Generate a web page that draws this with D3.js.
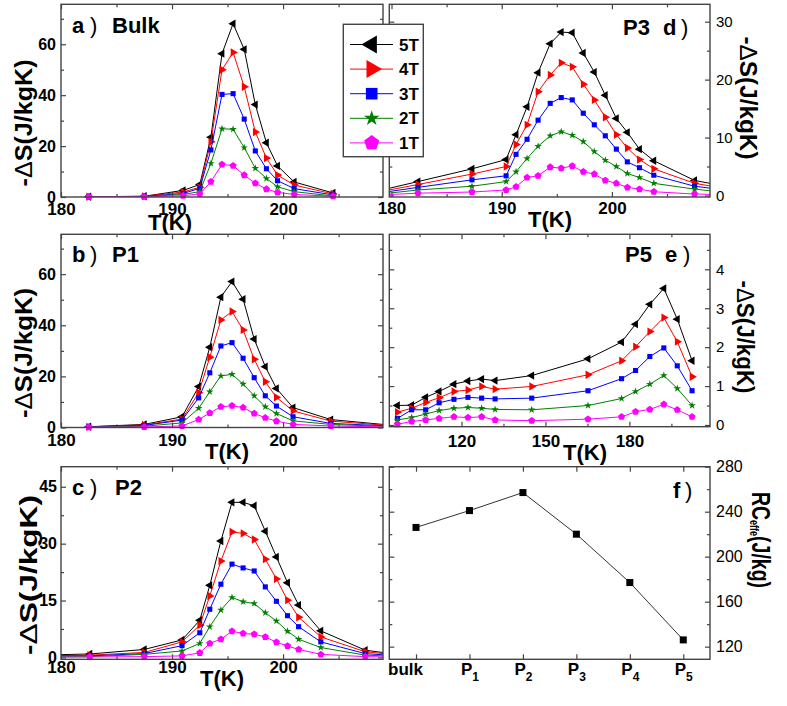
<!DOCTYPE html>
<html><head><meta charset="utf-8">
<script src="https://cdn.jsdelivr.net/npm/d3@7"></script>
<style>
body{margin:0;background:#fff;}
svg{display:block;font-family:Arial,"Liberation Sans",sans-serif;}
</style></head><body>
<svg id="chart" width="787" height="706"></svg>
<script>
// ---------- data ----------
const fieldNames = ["5T","4T","3T","2T","1T"];
const fieldColors = ["#000000","#ff0000","#0000ff","#008000","#ff00ff"];

// a) Bulk
const bulkT  = [182.5,187.5,191,192.5,193.5,194.5,195.5,196.5,197.5,198.5,199.5,201,204.5];
const bulk5T = [0.1,0.3,2.6,4.9,23.5,56.3,68.1,58.0,36.3,21.3,12.2,5.9,1.6];
const bulk4T = [0.1,0.25,2.0,3.8,21.7,50.0,56.8,43.3,25.5,15.3,8.6,4.7,1.2];
const bulk3T = [0.1,0.2,1.4,3.4,18.5,40.3,40.6,30.6,18.1,11.1,6.4,3.3,0.8];
const bulk2T = [0.05,0.15,1.0,2.1,13.2,26.8,26.6,19.4,11.3,7.3,4.0,2.1,0.4];
const bulk1T = [0.1,0.1,0.5,1.2,6.0,12.8,12.3,8.6,5.4,3.1,1.8,1.0,0.3];

// b) P1
const p1T  = [182.5,187.5,190.9,192.4,193.4,194.4,195.4,196.4,197.4,198.4,199.4,200.9,204.3,209.5];
const p15T = [0.3,1.2,4.2,16.0,31.4,51.0,57.1,50.2,34.6,23.8,15.3,7.8,3.1,1.0];
const p14T = [0.25,1.0,3.3,13.6,27.5,42.1,45.4,38.2,26.7,17.9,11.8,6.5,2.5,0.8];
const p13T = [0.2,0.8,2.9,11.6,21.4,31.9,33.2,27.1,19.5,12.4,8.4,4.2,1.6,0.6];
const p12T = [0.15,0.5,1.8,7.5,14.0,20.2,20.8,17.0,12.4,8.1,5.5,2.6,1.2,0.4];
const p11T = [0.1,0.2,0.6,3.1,5.7,8.1,8.5,7.8,5.5,3.8,2.5,1.2,0.6,0.2];

// c) P2
const p2T  = [178,182.6,187.5,190.9,192.5,193.4,194.4,195.4,196.4,197.4,198.4,199.4,200.4,201.4,203.4,207.4,210];
const p25T = [0.6,0.9,2.1,4.6,9.8,19.0,30.7,40.9,40.9,40.0,33.3,26.5,19.7,13.8,7.0,1.9,0.9];
const p24T = [0.4,0.6,1.3,4.1,8.5,16.2,25.4,33.1,32.7,31.1,25.9,20.7,15.1,10.6,5.4,1.5,0.7];
const p23T = [0.3,0.4,1.0,3.1,6.5,12.7,19.3,24.6,23.6,22.8,18.6,14.8,11.0,8.1,4.1,1.0,0.5];
const p22T = [0.15,0.2,0.8,1.7,3.7,8.1,12.5,15.8,14.7,14.2,11.8,9.6,6.9,4.8,2.6,0.6,0.3];
const p21T = [0.05,0.1,0.2,0.4,1.2,3.7,4.8,6.9,6.3,6.1,5.4,4.0,3.0,2.1,0.8,0.2,0.1];

// d) P3
const p3T  = [178,182.4,187.3,190.4,191.3,192.3,193.3,194.4,195.4,196.4,197.4,198.4,199.4,200.4,201.4,202.5,203.8,207.5,210];
const p35T = [0.45,2.4,4.6,6.2,10.5,15.3,21.2,26.2,28.2,28.1,24.6,21.3,17.3,13.3,10.9,8.0,6.0,2.6,1.7];
const p34T = [0.3,1.9,3.7,5.0,8.8,12.2,17.9,20.8,22.9,22.2,19.2,16.5,13.5,10.5,8.2,6.2,4.6,2.1,1.3];
const p33T = [0.2,1.4,2.7,3.4,7.1,9.7,13.0,15.9,16.9,16.5,14.2,12.2,10.3,8.0,5.8,4.8,3.5,1.6,1.0];
const p32T = [0.05,0.95,1.6,2.4,4.1,6.4,8.5,10.3,11.0,10.4,9.3,7.6,6.1,5.0,3.8,3.1,2.1,1.1,0.6];
const p31T = [0.0,0.4,0.6,0.95,1.5,3.1,3.4,4.9,4.7,5.1,4.1,3.7,2.6,2.1,1.4,1.1,0.65,0.25,0.15];

// e) P5
const p5T  = [97.1,102.2,107.2,112,117.3,122.3,127.2,132,145.1,165.2,177.2,182.2,187.3,192.3,197.1,202.4];
const p55T = [0.50,0.51,0.71,0.86,1.05,1.13,1.18,1.14,1.27,1.70,2.13,2.59,3.10,3.51,2.72,1.65];
const p54T = [0.33,0.43,0.58,0.70,0.86,0.90,0.99,0.92,0.99,1.29,1.65,2.01,2.40,2.76,2.14,1.24];
const p53T = [0.17,0.39,0.39,0.57,0.66,0.71,0.69,0.67,0.69,0.88,1.19,1.40,1.76,1.98,1.52,0.88];
const p52T = [0.13,0.19,0.28,0.37,0.43,0.45,0.43,0.40,0.39,0.50,0.68,0.86,1.05,1.27,0.94,0.50];
const p51T = [0.02,0.09,0.13,0.17,0.21,0.19,0.21,0.13,0.11,0.15,0.21,0.34,0.40,0.53,0.39,0.21];

// f) RC_effe
const samples = ["bulk","P1","P2","P3","P4","P5"];
const rcValues = [226,241,257,220,177,126];

// ---------- drawing ----------
const svg = d3.select("#chart");
const frameColor = "#444";

const pentagon = { draw(ctx, size) {
  const r = Math.sqrt(size);
  for (let i = 0; i < 5; i++) {
    const a = -Math.PI/2 + i*2*Math.PI/5;
    const px = r*Math.cos(a), py = r*Math.sin(a);
    if (i) ctx.lineTo(px, py); else ctx.moveTo(px, py);
  }
  ctx.closePath();
}};
const shapes = [
  {type:d3.symbolTriangle, rot:-90, plot:30, leg:140},
  {type:d3.symbolTriangle, rot:90,  plot:30, leg:140},
  {type:d3.symbolSquare,   rot:0,   plot:26, leg:135},
  {type:d3.symbolStar,     rot:0,   plot:18, leg:75},
  {type:pentagon,          rot:0,   plot:14, leg:62}
];

let clipCount = 0;
function drawPanel(cfg) {
  const g = svg.append("g");
  const x = d3.scaleLinear().domain(cfg.xDomain).range([cfg.left, cfg.right]);
  const y = d3.scaleLinear().domain(cfg.yDomain).range([cfg.bottom, cfg.top]);
  const id = "clip" + (clipCount++);
  svg.append("clipPath").attr("id", id).append("rect")
    .attr("x", cfg.left).attr("y", cfg.top)
    .attr("width", cfg.right - cfg.left).attr("height", cfg.bottom - cfg.top);

  const styleTicks = s => { s.select(".domain").remove(); s.selectAll("line").attr("stroke", frameColor).attr("stroke-width", 1.2); };
  const ticks = (fn, scale, vals, len, tr) => {
    if (!vals || !vals.length) return;
    g.append("g").attr("transform", tr)
      .call(fn(scale).tickValues(vals).tickSizeInner(-len).tickSizeOuter(0).tickFormat(""))
      .call(styleTicks);
  };
  // minor + mirror ticks
  ticks(d3.axisBottom, x, cfg.xMinor, 3, `translate(0,${cfg.bottom})`);
  ticks(d3.axisTop, x, cfg.xMinor, 3, `translate(0,${cfg.top})`);
  ticks(d3.axisTop, x, cfg.xMajor, 5, `translate(0,${cfg.top})`);
  ticks(d3.axisLeft, y, cfg.yMinor, 3, `translate(${cfg.left},0)`);
  ticks(d3.axisRight, y, cfg.yMinor, 3, `translate(${cfg.right},0)`);
  if (cfg.ySide === "left") ticks(d3.axisRight, y, cfg.yMajor, 5, `translate(${cfg.right},0)`);
  else ticks(d3.axisLeft, y, cfg.yMajor, 5, `translate(${cfg.left},0)`);

  // labelled x axis
  const xa = g.append("g").attr("transform", `translate(0,${cfg.bottom})`)
    .call(d3.axisBottom(x).tickValues(cfg.xMajor).tickSizeInner(-5).tickSizeOuter(0)
      .tickPadding(cfg.xPad).tickFormat(cfg.xFormat || d3.format("d")))
    .call(styleTicks);
  xa.selectAll("text").attr("font-size", 17).attr("font-weight", "bold").attr("fill", "#000")
    .attr("font-family", "Arial, 'Liberation Sans', sans-serif");
  if (cfg.xLabelHook) cfg.xLabelHook(xa);

  // labelled y axis
  const yAxisFn = cfg.ySide === "left" ? d3.axisLeft : d3.axisRight;
  const ya = g.append("g").attr("transform", `translate(${cfg.ySide === "left" ? cfg.left : cfg.right},0)`)
    .call(yAxisFn(y).tickValues(cfg.yMajor).tickSizeInner(-5).tickSizeOuter(0)
      .tickPadding(cfg.yPad).tickFormat(d3.format("d")))
    .call(styleTicks);
  ya.selectAll("text").attr("font-size", cfg.yFont).attr("font-weight", cfg.ySide === "left" ? "bold" : "normal")
    .attr("fill", "#000").attr("font-family", "Arial, 'Liberation Sans', sans-serif");

  // series
  const line = d3.line().x(d => x(d[0])).y(d => y(d[1]));
  const inDom = d => d[0] >= cfg.xDomain[0] && d[0] <= cfg.xDomain[1];
  (cfg.series || []).forEach((vals, i) => {
    const pts = cfg.xs.map((t, k) => [t, vals[k]]);
    g.append("path").datum(pts).attr("d", line).attr("fill", "none")
      .attr("stroke", fieldColors[i]).attr("stroke-width", 1).attr("clip-path", `url(#${id})`);
    const sh = shapes[i];
    g.append("g").selectAll("path").data(pts.filter(inDom)).join("path")
      .attr("d", d3.symbol().type(sh.type).size(sh.plot))
      .attr("transform", d => `translate(${x(d[0])},${y(d[1])}) rotate(${sh.rot})`)
      .attr("fill", fieldColors[i]);
  });
  if (cfg.single) {
    const pts = cfg.single.xs.map((t, k) => [t, cfg.single.ys[k]]);
    g.append("path").datum(pts).attr("d", line).attr("fill", "none")
      .attr("stroke", "#333").attr("stroke-width", 1);
    g.append("g").selectAll("rect").data(pts).join("rect")
      .attr("x", d => x(d[0]) - 3.5).attr("y", d => y(d[1]) - 3.5)
      .attr("width", 7).attr("height", 7).attr("fill", "#000");
  }

  // frame
  g.append("rect").attr("x", cfg.left).attr("y", cfg.top)
    .attr("width", cfg.right - cfg.left).attr("height", cfg.bottom - cfg.top)
    .attr("fill", "none").attr("stroke", frameColor).attr("stroke-width", 1.4);
  return g;
}

// panel label: bold parts placed at given x positions, thin ")" after the letter
function panelLabel(y, parts) {
  parts.forEach(p => {
    svg.append("text").attr("x", p.x).attr("y", y).attr("font-size", 22)
      .attr("font-weight", p.thin ? "normal" : "bold").attr("fill", "#000").text(p.t);
  });
}

function dsTitle(x, y, len, rot) {
  const t = svg.append("text")
    .attr("transform", `translate(${x},${y}) rotate(${rot})`)
    .attr("text-anchor", "middle").attr("font-size", 24).attr("font-weight", "bold")
    .attr("textLength", len).attr("lengthAdjust", "spacingAndGlyphs").attr("fill", "#000");
  t.append("tspan").text("-");
  t.append("tspan").attr("font-weight", "normal").text("\u0394");
  t.append("tspan").text("S(J/kgK)");
}
function tTitle(x, y) {
  svg.append("text").attr("x", x).attr("y", y).attr("text-anchor", "middle")
    .attr("font-size", 22).attr("font-weight", "bold").attr("fill", "#000").text("T(K)");
}

const mk = (a, b, c, d, e) => [a, b, c, d, e];

// a) Bulk
drawPanel({left:61, right:383, top:4.3, bottom:197, xDomain:[180,209], yDomain:[0,75.7],
  xMajor:[180,190,200], xMinor:[185,195,205], yMajor:[0,20,40,60], yMinor:[10,30,50,70],
  ySide:"left", xPad:6, yPad:5, yFont:16, xs:bulkT, series:mk(bulk5T,bulk4T,bulk3T,bulk2T,bulk1T)});
// b) P1
drawPanel({left:61, right:383, top:234.3, bottom:427.5, xDomain:[180,209], yDomain:[0,75.6],
  xMajor:[180,190,200], xMinor:[185,195,205], yMajor:[0,20,40,60], yMinor:[10,30,50,70],
  ySide:"left", xPad:6, yPad:5, yFont:16, xs:p1T, series:mk(p15T,p14T,p13T,p12T,p11T)});
// c) P2
drawPanel({left:61, right:383, top:466.7, bottom:659.3, xDomain:[180,209], yDomain:[-0.5,50.3],
  xMajor:[180,190,200], xMinor:[185,195,205], yMajor:[0,15,30,45], yMinor:[7.5,22.5,37.5],
  ySide:"left", xPad:2, yPad:4, yFont:16, xs:p2T, series:mk(p25T,p24T,p23T,p22T,p21T)});
// d) P3
drawPanel({left:389.3, right:710, top:4.3, bottom:197, xDomain:[179.8,208.9], yDomain:[-0.26,33],
  xMajor:[180,190,200], xMinor:[185,195,205], yMajor:[0,10,20,30], yMinor:[5,15,25],
  ySide:"right", xPad:5, yPad:6, yFont:15, xs:p3T, series:mk(p35T,p34T,p33T,p32T,p31T)});
// e) P5
drawPanel({left:389.3, right:710, top:234.3, bottom:426.7, xDomain:[94.2,208.8], yDomain:[-0.044,4.9],
  xMajor:[120,150,180], xMinor:[105,135,165,195], yMajor:[0,1,2,3,4], yMinor:[0.5,1.5,2.5,3.5,4.5],
  ySide:"right", xPad:8, yPad:6, yFont:15, xs:p5T, series:mk(p55T,p54T,p53T,p52T,p51T)});
// f) RC
const sampleIdx = samples.map((s, i) => i);
drawPanel({left:389.3, right:710, top:466.7, bottom:659.3, xDomain:[-0.5,5.5], yDomain:[108.75,280],
  xMajor:sampleIdx, xMinor:[], yMajor:[120,160,200,240,280], yMinor:[140,180,220,260],
  ySide:"right", xPad:4, yPad:6, yFont:16, xFormat: i => samples[i],
  xLabelHook: xa => {
    xa.selectAll("text").each(function(d) {
      const s = samples[d];
      const t = d3.select(this).text(null);
      if (s === "bulk") { t.text("bulk").attr("dx", -11); }
      else {
        t.append("tspan").text("P");
        t.append("tspan").attr("font-size", 12).attr("dy", 6).text(s.slice(1));
      }
    });
  },
  single:{xs:sampleIdx, ys:rcValues}});

// panel labels
panelLabel(33,  [{x:72,t:"a"},{x:90,t:")",thin:true},{x:112,t:"Bulk"}]);
panelLabel(262, [{x:72,t:"b"},{x:90,t:")",thin:true},{x:112,t:"P1"}]);
panelLabel(495, [{x:72,t:"c"},{x:90,t:")",thin:true},{x:115,t:"P2"}]);
panelLabel(35,  [{x:623,t:"P3"},{x:663,t:"d"},{x:681,t:")",thin:true}]);
panelLabel(262, [{x:625,t:"P5"},{x:665,t:"e"},{x:683,t:")",thin:true}]);
panelLabel(498, [{x:673,t:"f"},{x:685,t:")",thin:true}]);

// axis titles
dsTitle(32, 123, 127, -90);
dsTitle(32, 353, 130, -90);
dsTitle(37, 575, 160, -90);
dsTitle(740, 98, 123, 90);
dsTitle(737, 337, 113, 90);
tTitle(170, 230);
tTitle(227, 459);
tTitle(222, 686);
tTitle(550, 227);
tTitle(585, 460);

// RC title
const rc = svg.append("text").attr("transform", "translate(752,540) rotate(90)")
  .attr("text-anchor", "middle").attr("font-size", 26).attr("font-weight", "bold")
  .attr("textLength", 96).attr("lengthAdjust", "spacingAndGlyphs").attr("fill", "#000");
rc.append("tspan").text("RC");
rc.append("tspan").attr("font-size", 12).attr("dy", 2).text("effe");
rc.append("tspan").attr("dy", -2).text("(J/kg)");

// legend
const leg = svg.append("g");
leg.append("rect").attr("x", 343.3).attr("y", 24.3).attr("width", 80).attr("height", 132.4)
  .attr("fill", "#fff").attr("stroke", frameColor).attr("stroke-width", 1.4);
fieldNames.forEach((n, i) => {
  const yy = 44.5 + i * 24.6;
  leg.append("line").attr("x1", 350).attr("x2", 393).attr("y1", yy).attr("y2", yy)
    .attr("stroke", fieldColors[i]).attr("stroke-width", 1);
  leg.append("path").attr("d", d3.symbol().type(shapes[i].type).size(shapes[i].leg))
    .attr("transform", `translate(371.7,${yy}) rotate(${shapes[i].rot})`).attr("fill", fieldColors[i]);
  leg.append("text").attr("x", 399).attr("y", yy + 6).attr("font-size", 17).attr("font-weight", "bold")
    .attr("fill", "#000").text(n);
});
</script>
</body></html>
